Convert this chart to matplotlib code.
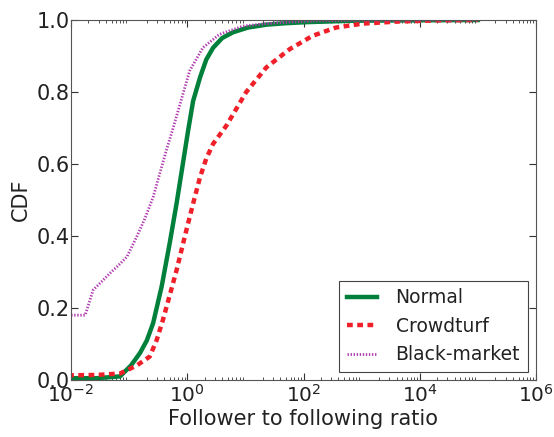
import matplotlib
matplotlib.use("Agg")
import matplotlib.pyplot as plt
import numpy as np

# Data (log10 of ratio, CDF)
normal_logx = [-2.05, -1.56, -1.157, -0.970, -0.813, -0.695, -0.587, -0.440, -0.302, -0.184, -0.076, 0.012, 0.101, 0.219, 0.327, 0.445, 0.602, 0.789, 1.044, 1.359, 1.683, 2.047, 2.863, 3.846, 5.0]
normal_cdf = [0.005, 0.005, 0.01, 0.04, 0.075, 0.11, 0.158, 0.26, 0.38, 0.49, 0.60, 0.69, 0.775, 0.84, 0.89, 0.923, 0.95, 0.966, 0.979, 0.987, 0.991, 0.994, 0.998, 0.999, 1.0]

crowd_logx = [-2.05, -1.56, -1.157, -0.872, -0.646, -0.528, -0.420, -0.302, -0.184, -0.017, 0.101, 0.219, 0.327, 0.445, 0.671, 1.015, 1.359, 1.762, 2.155, 2.558, 3.020, 3.649, 4.337, 5.0]
crowd_cdf = [0.013, 0.014, 0.018, 0.04, 0.065, 0.11, 0.166, 0.235, 0.305, 0.415, 0.49, 0.563, 0.615, 0.656, 0.706, 0.80, 0.868, 0.919, 0.956, 0.979, 0.99, 0.996, 0.999, 1.0]

black_logx = [-2.05, -1.757, -1.619, -1.462, -1.334, -1.187, -1.039, -0.872, -0.725, -0.587, -0.479, -0.361, -0.243, -0.125, 0.042, 0.268, 0.553, 0.956, 1.359, 2.076, 2.863, 5.0]
black_cdf = [0.18, 0.18, 0.25, 0.275, 0.296, 0.318, 0.342, 0.397, 0.45, 0.508, 0.57, 0.637, 0.70, 0.766, 0.859, 0.923, 0.96, 0.983, 0.99, 0.997, 0.999, 1.0]

labels = ["Normal", "Crowdturf", "Black-market"]

fig = plt.figure(figsize=(5.54, 4.37), dpi=100)
ax = fig.add_axes([71/554, 1 - 380/437, (536-71)/554, (380-20)/437])

ax.plot(10**np.array(normal_logx), normal_cdf, color="#00803a", lw=3.2, ls="-", label=labels[0])
ax.plot(10**np.array(crowd_logx), crowd_cdf, color="#f0202a", lw=3.2, ls=(0, (1.3, 1.0)), label=labels[1])
ax.plot(10**np.array(black_logx), black_cdf, color="#b03cb0", lw=2.0, ls=(0, (0.5, 0.6)), label=labels[2])

ax.set_xscale("log")
ax.set_xlim(1e-2, 1e6)
ax.set_ylim(0, 1)
ax.set_xticks([1e-2, 1e0, 1e2, 1e4, 1e6])
ax.set_yticks([0, 0.2, 0.4, 0.6, 0.8, 1.0])
ax.set_yticklabels(["0.0", "0.2", "0.4", "0.6", "0.8", "1.0"])
ax.tick_params(which="both", direction="in", top=True, right=True, labelsize=15,
               labelcolor="#222222", color="#333333")
ax.tick_params(which="major", length=5)
ax.tick_params(which="minor", length=2.5)
ax.tick_params(axis="x", which="major", pad=3, labelsize=14.5)
ax.tick_params(axis="y", which="major", pad=1)
ax.set_xlabel("Follower to following ratio", fontsize=15, color="#222222", labelpad=2)
ax.set_ylabel("CDF", fontsize=15, color="#222222", labelpad=4)
for s in ax.spines.values():
    s.set_color("#555555")

leg = ax.legend(loc="lower right", fontsize=13.5, fancybox=False, framealpha=1,
                edgecolor="#444444", handlelength=1.6, handletextpad=1.0,
                borderaxespad=0.45, labelspacing=0.5)
for t in leg.get_texts():
    t.set_color("#222222")
leg.get_frame().set_linewidth(0.8)

fig.savefig("out.png", dpi=100)
